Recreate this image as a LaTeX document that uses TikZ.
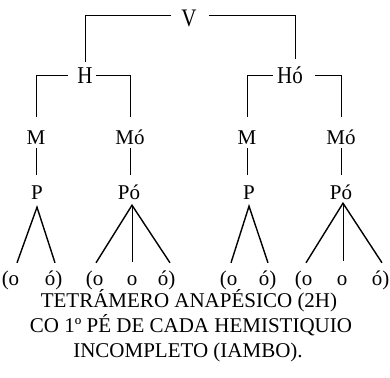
\documentclass[tikz,border=0pt]{standalone}
\usepackage{fontspec}
\setmainfont{Liberation Serif}
\begin{document}
\begin{tikzpicture}[x=1pt,y=-1pt,
  lab/.style={font=\fontsize{21}{25}\selectfont, inner sep=0pt, text height=14pt, text depth=0pt, anchor=base},
  syl/.style={font=\fontsize{21}{25}\selectfont, inner sep=0pt, text height=10pt, text depth=0pt, anchor=base},
  captext/.style={font=\fontsize{21}{25}\selectfont, inner sep=0pt, anchor=base},
  br/.style={line width=0.7pt},
  leg/.style={line width=1.4pt},
  mid/.style={line width=0.8pt}]
\useasboundingbox (0,0) rectangle (390,377);
% tree labels
\node[lab] (V) at (189,27) {\scalebox{1}[1.2]{V}};
\node[lab] (H) at (85,84) {\scalebox{1}[1.15]{H}};
\node[lab] (Ho) at (290,84) {\scalebox{1}[1.15]{Hó}};
\node[lab] (M1) at (36,144) {M};
\node[lab] (Mo1) at (130,144) {Mó};
\node[lab] (M2) at (247,144) {M};
\node[lab] (Mo2) at (341,144) {Mó};
\node[lab] (P1) at (37,199) {P};
\node[lab] (Po1) at (129,199) {Pó};
\node[lab] (P2) at (249,199) {P};
\node[lab] (Po2) at (341,199) {Pó};
% syllables
\node[syl] (s1) at (14,285) {\llap{(}o};
\node[syl] (s2) at (50,285) {ó\rlap{)}};
\node[syl] (s3) at (98,285) {\llap{(}o};
\node[syl] (s4) at (132,285) {o};
\node[syl] (s5) at (163,285) {ó\rlap{)}};
\node[syl] (s6) at (232,285) {\llap{(}o};
\node[syl] (s7) at (264,285) {ó\rlap{)}};
\node[syl] (s8) at (307,285) {\llap{(}o};
\node[syl] (s9) at (342,285) {o};
\node[syl] (s10) at (377,285) {ó\rlap{)}};
% captions
\node[captext] (t1) at (189,307) {TETRÁMERO ANAPÉSICO (2H)};
\node[captext] (t2) at (191,332) {CO 1º PÉ DE CADA HEMISTIQUIO};
\node[captext] (t3) at (188,357) {INCOMPLETO (IAMBO).};
% brackets
\draw[br] ([shift={(-10pt,5pt)}]V.west) -| ([yshift=8pt]H.north);
\draw[br] ([shift={(12pt,5pt)}]V.east) -| ([shift={(5pt,11pt)}]Ho.north);
\draw[br] ([shift={(-9pt,2pt)}]H.west) -| ([yshift=13pt]M1.north);
\draw[br] ([shift={(3pt,2pt)}]H.east) -| ([yshift=13pt]Mo1.north);
\draw[br] ([shift={(-4pt,2pt)}]Ho.west) -| ([yshift=13pt]M2.north);
\draw[br] ([shift={(12pt,2pt)}]Ho.east) -| ([yshift=13pt]Mo2.north);
% M - P
\draw[br] ([yshift=-4pt]M1.south) -- ([yshift=10pt]M1.south |- P1.north);
\draw[br] ([yshift=-4pt]Mo1.south) -- ([yshift=10pt]Mo1.south |- Po1.north);
\draw[br] ([yshift=-4pt]M2.south) -- ([yshift=10pt]M2.south |- P2.north);
\draw[br] ([yshift=-4pt]Mo2.south) -- ([yshift=10pt]Mo2.south |- Po2.north);
% feet
\draw[leg] ([shift={(3pt,12pt)}]s1.north) -- ([yshift=-8pt]P1.south) -- ([shift={(5pt,12pt)}]s2.north);
\draw[leg] ([shift={(-2pt,12pt)}]s3.north) -- ([shift={(3pt,-6pt)}]Po1.south) -- ([shift={(7pt,12pt)}]s5.north);
\draw[mid] ([shift={(3pt,-6pt)}]Po1.south) -- ([yshift=13pt]s4.north);
\draw[leg] ([shift={(-1pt,12pt)}]s6.north) -- ([yshift=-7pt]P2.south) -- ([shift={(4pt,12pt)}]s7.north);
\draw[leg] ([shift={(-1pt,12pt)}]s8.north) -- ([shift={(2pt,-4pt)}]Po2.south) -- ([shift={(5pt,12pt)}]s10.north);
\draw[mid] ([shift={(2pt,-4pt)}]Po2.south) -- ([shift={(1pt,14pt)}]s9.north);
\end{tikzpicture}
\end{document}
